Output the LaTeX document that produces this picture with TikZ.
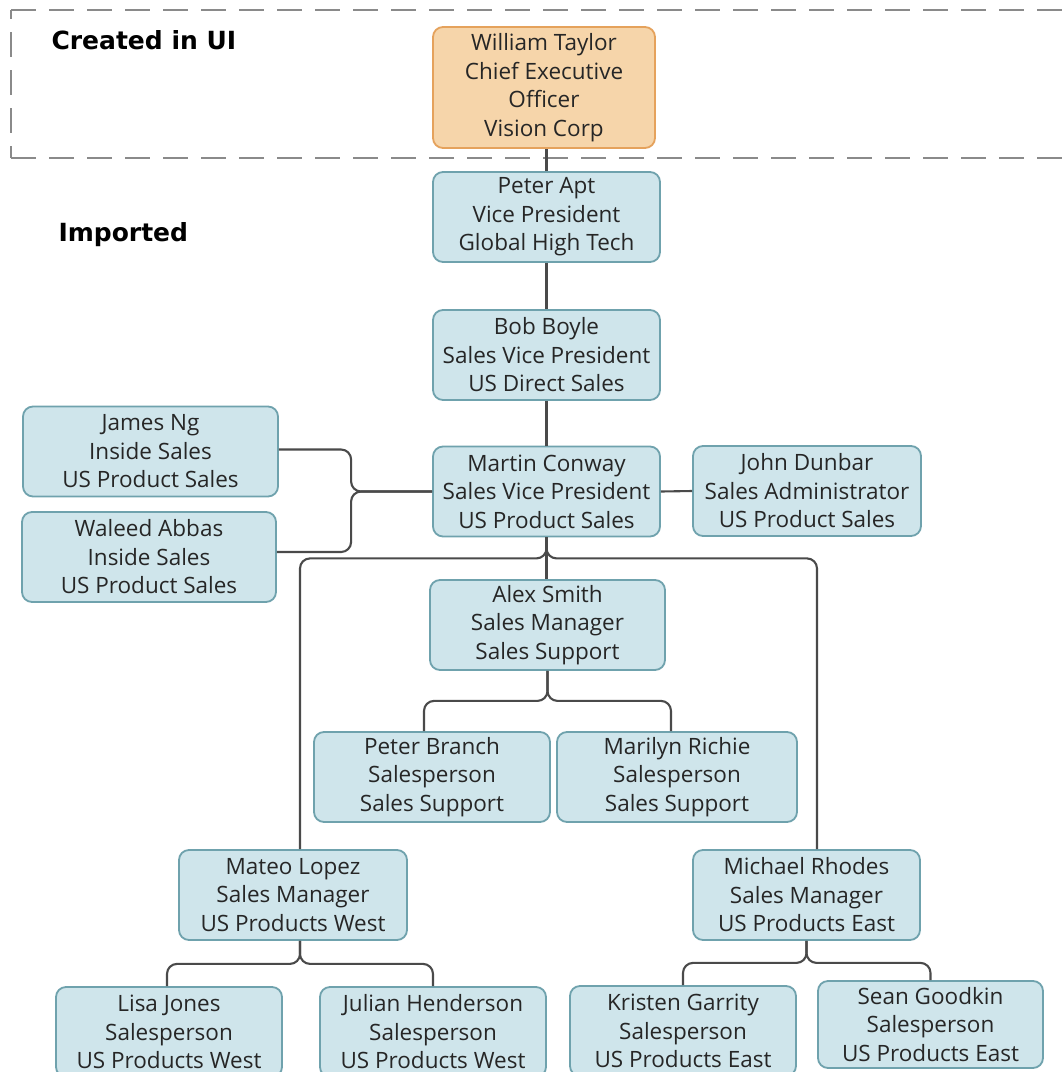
\documentclass[tikz,border=0pt]{standalone}
\usepackage{fontspec}
\setmainfont{Open Sans}
\newfontfamily\labelfont{DejaVu Sans}[BoldFont={DejaVu Sans Bold}]
\usetikzlibrary{calc}

\definecolor{boxfill}{HTML}{CFE5EB}
\definecolor{boxline}{HTML}{6FA2AD}
\definecolor{ceofill}{HTML}{F6D5AA}
\definecolor{ceoline}{HTML}{E5A25C}
\definecolor{txt}{HTML}{262626}
\definecolor{wire}{HTML}{4A4A4A}
\definecolor{dashgray}{HTML}{8A8A8A}

\tikzset{
  person/.style={draw=boxline, fill=boxfill, line width=1.8pt, rounded corners=10pt,
    align=center, inner sep=0pt, minimum height=90pt, text=txt,
    font=\fontsize{22.5}{28.5}\selectfont},
  ceobox/.style={person, draw=ceoline, fill=ceofill, minimum height=121pt},
  conn/.style={draw=wire, line width=2.1pt, rounded corners=10pt},
  zone/.style={draw=dashgray, line width=2.2pt, dash pattern=on 25pt off 13pt},
  zonelabel/.style={anchor=base west, text=black,
    font=\labelfont\bfseries\fontsize{25}{30}\selectfont}
}

\begin{document}
\begin{tikzpicture}[x=1pt, y=-1pt]
  \clip (0,0) rectangle (1064,1072);
  \fill[white] (0,0) rectangle (1064,1072);

  % dashed frame around the part created in the UI
  \draw[zone] (11,10) -- (1090,10);
  \draw[zone] (11,158) -- (1090,158);
  \draw[zone, dash phase=16pt] (11,10) -- (11,158);
  \node[zonelabel] (created) at (48,49) {Created in UI};
  \node[zonelabel] (imported) at (55,241) {Imported};

  % people
  \node[ceobox, minimum width=222pt] (ceo) at (544,87.5)
    {William Taylor\\Chief Executive\\Officer\\Vision Corp};
  \node[person, minimum width=227pt] (apt) at (546.5,217)
    {Peter Apt\\Vice President\\Global High Tech};
  \node[person, minimum width=227pt] (bob) at (546.5,355)
    {Bob Boyle\\Sales Vice President\\US Direct Sales};
  \node[person, minimum width=227pt] (martin) at (546.5,491.5)
    {Martin Conway\\Sales Vice President\\US Product Sales};
  \node[person, minimum width=255pt] (james) at (150.5,451.5)
    {James Ng\\Inside Sales\\US Product Sales};
  \node[person, minimum width=254pt] (waleed) at (149,557)
    {Waleed Abbas\\Inside Sales\\US Product Sales};
  \node[person, minimum width=228pt] (john) at (807,491)
    {John Dunbar\\Sales Administrator\\US Product Sales};
  \node[person, minimum width=235pt] (alex) at (547.5,625)
    {Alex Smith\\Sales Manager\\Sales Support};
  \node[person, minimum width=236pt] (pbranch) at (432,777)
    {Peter Branch\\Salesperson\\Sales Support};
  \node[person, minimum width=240pt] (marilyn) at (677,777)
    {Marilyn Richie\\Salesperson\\Sales Support};
  \node[person, minimum width=228pt] (mateo) at (293,895)
    {Mateo Lopez\\Sales Manager\\US Products West};
  \node[person, minimum width=227pt] (michael) at (806.5,895)
    {Michael Rhodes\\Sales Manager\\US Products East};
  \node[person, minimum width=226pt] (lisa) at (169,1032)
    {Lisa Jones\\Salesperson\\US Products West};
  \node[person, minimum width=226pt] (julian) at (433,1032)
    {Julian Henderson\\Salesperson\\US Products West};
  \node[person, minimum width=226pt] (kristen) at (683,1031)
    {Kristen Garrity\\Salesperson\\US Products East};
  \node[person, minimum width=225pt, minimum height=87pt] (sean) at (930.5,1024.5)
    {Sean Goodkin\\Salesperson\\US Products East};

  % reporting lines
  \draw[conn] (apt.north) -- (apt.north |- ceo.south);
  \draw[conn] (apt.south) -- (bob.north);
  \draw[conn] (bob.south) -- (martin.north);
  \draw[conn] (martin.east) -- (john.west);
  \draw[conn] (martin.west) -- ++(-81,0) |- ([yshift=2pt]james.east);
  \draw[conn] (martin.west) -- ++(-81,0) |- ([yshift=5pt]waleed.east);
  \draw[conn] (martin.south) -- ++(0,21) -| ([xshift=7pt]mateo.north);
  \draw[conn] (martin.south) -- ++(0,21) -| ([xshift=10.5pt]michael.north);
  \draw[conn] (martin.south) -- (martin.south |- alex.north);
  \draw[conn] (alex.south) -- ++(0,30) -| ([xshift=-8pt]pbranch.north);
  \draw[conn] (alex.south) -- ++(0,30) -| ([xshift=-6pt]marilyn.north);
  \draw[conn] ([xshift=7pt]mateo.south) -- ++(0,23) -| ([xshift=-2pt]lisa.north);
  \draw[conn] ([xshift=7pt]mateo.south) -- ++(0,23) -| (julian.north);
  \draw[conn] (michael.south) -- ++(0,22) -| (kristen.north);
  \draw[conn] (michael.south) -- ++(0,22) -| (sean.north);
\end{tikzpicture}
\end{document}
